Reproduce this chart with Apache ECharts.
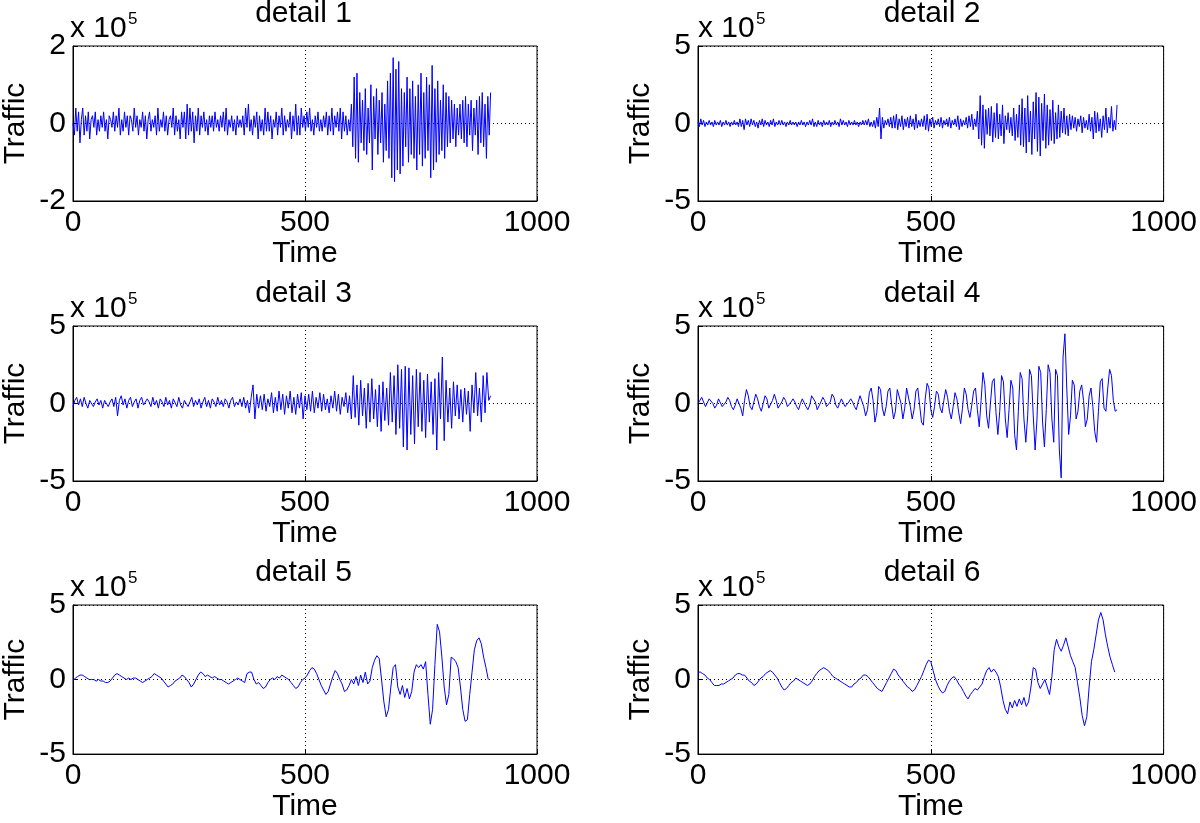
<!DOCTYPE html>
<html><head><meta charset="utf-8">
<script src="https://cdn.jsdelivr.net/npm/echarts@6/dist/echarts.min.js"></script>
<style>html,body{margin:0;padding:0;background:#fff}#c{width:1200px;height:823px}</style>
</head><body><div id="c"></div>
<script>
// ---- data (values in units of 1e4; plotted in units of 1e5) ----
const titles = ['detail 1', 'detail 2', 'detail 3', 'detail 4', 'detail 5', 'detail 6'];
const timeTicks = [0, 500, 1000];
const yLimits = [2, 5, 5, 5, 5, 5];
const timeSteps = [3, 3, 4, 4, 5, 5];

const detail1 = [
0,-3,4,-2,3,-5,1,4,-3,2, -2,3,-4,1,2,-1,3,-3,1,-2, 2,-1,3,-2,1,-4,2,1,-1,3,
-2,2,-1,4,-3,1,-2,3,-1,2, -3,2,1,-2,4,-1,2,-3,1,-1, 3,-2,2,-4,1,3,-2,1,-1,2,
-3,4,-2,1,-1,3,-2,2,-3,1, 2,-1,4,-3,2,-2,1,-4,3,-1, 3,-4,5,-3,4,-2,3,-5,2,-2,
4,-3,2,-1,3,-2,1,-3,2,-1, 2,-2,3,-1,1,-2,2,-1,3,-2, 4,-3,1,-1,2,-2,1,-3,2,-1,
1,-1,2,-3,4,-1,5,-2,1,-3, 2,-1,3,-4,2,-2,1,-3,4,-2, 3,-2,2,-4,1,-1,3,-3,2,-1,
4,-3,2,-2,1,-1,3,-4,2,-2, 5,-3,2,-3,4,-1,2,-2,3,-1, 4,-2,1,-3,2,-1,3,-2,1,-2,
2,-1,3,-3,2,-2,4,-3,2,-1, 3,-2,4,-4,3,-2,2,-3,1,-2, 5,-6,12,-9,13,-10,8,-5,6,-7,
9,-8,4,-5,10,-12,7,-4,9,-8, 6,-5,8,-10,5,-7,11,-9,13,-14, 17,-15,14,-12,16,-13,9,-11,8,-6,
12,-10,9,-8,11,-9,7,-12,10,-8, 13,-11,8,-9,12,-7,10,-14,15,-12, 9,-10,11,-8,6,-7,10,-9,8,-6,
7,-5,6,-4,5,-6,4,-3,5,-4, 6,-5,7,-6,5,-3,6,-7,4,-3, 6,-8,7,-5,8,-6,5,-9,7,-3,
8
];
const detail2 = [
1,-2,3,-1,2,-2,1,-1,2,-1, 1,-2,2,-1,1,-1,2,-2,1,-1, 2,-1,1,-2,1,-1,2,-1,1,-2,
3,-2,2,-4,3,-1,2,-2,3,-1, 2,-2,1,-3,2,-1,3,-2,2,-1, 1,-2,2,-1,3,-2,1,-1,2,-1,
2,-1,1,-2,1,-1,2,-1,1,-1, 1,-2,1,-1,2,-1,1,-2,1,-1, 2,-1,3,-2,1,-2,2,-1,1,-2,
2,-1,1,-1,2,-2,1,-1,2,-1, 1,-2,3,-1,2,-1,1,-2,2,-1, 1,-1,2,-1,1,-2,1,-1,2,-1,
2,-1,3,-2,1,-2,2,-3,4,-2, 10,-10,4,-3,2,-1,3,-2,4,-3, 5,-3,6,-4,3,-2,5,-4,3,-2,
4,-3,5,-2,3,-4,6,-3,2,-2, 3,-2,5,-4,6,-5,3,-2,4,-3, 2,-1,3,-2,4,-3,2,-1,3,-2,
4,-3,2,-1,3,-2,5,-4,3,-2, 2,-1,4,-3,5,-2,6,-4,3,-2, 8,-10,18,-14,12,-16,9,-7,10,-8,
11,-12,7,-9,13,-10,6,-8,12,-13, 5,-4,7,-6,4,-8,10,-11,6,-9, 12,-14,16,-15,10,-19,18,-12,8,-20,
14,-10,20,-18,17,-21,13,-11,19,-16, 12,-14,9,-11,15,-13,7,-10,12,-9, 8,-6,10,-7,5,-8,6,-4,5,-3,
4,-5,3,-2,5,-6,4,-3,2,-4, 6,-5,4,-10,8,-6,7,-5,3,-9, 5,-4,10,-6,4,-3,11,-5,2,-4,
12
];
const detail3 = [
-2,2,4,-1,3,-2,4,0,-3,2, 3,-2,1,3,-1,2,-3,2,3,-2, 1,3,-2,4,-8,2,5,-1,3,-3,
2,4,-2,1,3,-3,2,4,-1,-2, 3,1,-2,4,-1,2,-3,3,1,-2, 4,-1,2,-3,3,2,-2,4,-1,-3,
2,3,-2,1,4,-2,2,-1,3,-3, 1,4,-2,2,-3,3,1,-2,4,-1, 2,-2,3,1,-3,2,4,-2,1,-1,
3,-2,4,-3,2,-6,4,12,-10,6, -3,5,-4,6,-5,3,-2,7,-6,4, -5,8,-4,6,-7,5,-3,8,-6,4,
-7,6,-3,7,-10,5,-4,6,-5,8, -6,4,-3,7,-5,6,-4,3,-6,5, -3,8,-5,6,-7,4,-2,7,-6,5,
-10,18,-9,12,-14,15,-8,10,-16,13, -12,16,-10,9,-15,12,-18,14,-11,10, -14,20,-12,18,-20,25,-16,22,-28,24,
-30,23,-20,18,-26,22,-15,20,-18,15, -22,19,-12,14,-20,16,-30,20,-10,30, -24,15,-12,10,-16,14,-8,12,-10,9,
-12,10,-7,8,-18,12,-6,20,-8,10, -12,18,-6,20,2,5
];
const detail4 = [
0,2,4,1,-2,-1,3,4,0,-3, -1,3,2,-2,-3,1,4,2,-2,-4, -1,3,2,-3,-8,2,9,5,-2,-4,
1,6,3,-2,-5,0,5,3,-3,-4, 2,6,2,-3,-4,1,4,2,-2,-3, 1,3,1,-2,-4,0,3,2,-2,-4,
-1,5,6,1,-4,-5,1,4,2,-2, -3,1,6,4,-1,-3,0,3,2,-2, -3,1,3,1,-2,-4,1,5,6,-2,
-8,-4,7,10,2,-12,-6,11,9,-3, -8,-2,8,10,-1,-10,-5,9,10,0, -10,-3,10,9,-2,-10,-4,8,10,-1,
-12,-14,3,13,10,-4,-9,-2,8,6, -3,-6,2,9,4,-5,-10,-2,7,3, -6,-13,-3,10,6,-4,-9,-1,8,10,
-4,-15,2,20,12,-8,-16,0,14,16, -6,-20,-5,18,14,-10,-22,-4,15,10, -20,-30,-5,20,16,-10,-25,-8,22,18,
-8,-30,-10,24,20,-12,-28,-4,25,20, -10,-25,22,18,-30,-48,30,45,10,-20, -8,15,12,-10,-5,8,12,2,-15,-10,
5,10,-2,-18,-25,-5,14,16,-3,-5, 10,22,18,2,-5,-4
];
const detail5 = [
-1,1,2,3,3,2,1,0,0,0, -1,0,-1,-1,-2,-2,-1,1,3,4, 3,2,1,0,1,0,1,1,0,-1,
-2,-1,0,1,2,4,3,2,1,-1, -3,-5,-4,-3,-1,0,1,3,2,0, -2,-5,-3,0,3,5,4,2,3,2,
1,2,1,0,0,-1,-2,-3,-2,-1, 0,1,0,-1,-2,4,5,5,0,-3, -2,-4,-6,-5,-2,0,1,0,2,1,
3,2,1,0,-2,-4,-6,-5,-2,0, 1,3,6,8,7,4,0,-4,-7,-10, -8,-3,2,6,4,0,-3,-8,-7,-4,
0,-3,2,-4,3,-2,5,-3,-1,8, 13,16,14,0,-15,-25,-20,-5,8,10, -5,-10,-4,-12,-6,-13,-8,5,10,8,
10,7,12,-10,-30,-20,10,37,32,15, -5,-17,-10,15,14,12,8,-5,-20,-28, -27,-10,5,20,26,28,24,15,8,0
];
const detail6 = [
5,5,4,3,1,0,-2,-4,-4,-4, -3,-3,-2,-1,0,1,3,4,4,3, 3,1,-1,-2,-4,-3,-1,1,2,4,
5,6,5,3,1,-2,-5,-7,-6,-4, -2,-1,1,0,-1,-2,-3,-4,-3,-1, 2,4,6,7,8,7,6,4,2,1,
0,-1,-2,-3,-4,-5,-5,-3,-2,0, 1,3,3,2,0,-2,-4,-6,-7,-8, -5,-2,1,4,7,6,3,1,-1,-3,
-5,-6,-8,-7,-4,-1,2,6,10,13, 12,6,0,-4,-7,-9,-8,-4,-1,1, 2,0,-3,-5,-8,-11,-13,-10,-8,-6,
-7,-5,-3,2,6,8,5,7,5,2, -5,-14,-20,-23,-15,-19,-14,-18,-13,-17, -12,-18,-15,-5,8,7,-2,-6,-3,0,
-5,-10,2,20,27,22,19,23,28,22, 16,12,8,-2,-12,-24,-31,-25,-5,12, 20,30,40,45,40,30,22,15,10,5
];
const seriesValues = [detail1, detail2, detail3, detail4, detail5, detail6];

// ---- layout ----
const FONT = '"Liberation Sans", Arial, Helvetica, sans-serif';
const FS = 30;
const colLeft = [70, 698], colWidth = [467, 468];
const rowTop = [46, 326, 605], rowHeight = 155;

const grids = [], xAxes = [], yAxes = [], series = [], graphics = [];
for (let i = 0; i < 6; i++) {
  const r = Math.floor(i / 2), c = i % 2;
  const left = colLeft[c], top = rowTop[r], w = colWidth[c];
  grids.push({left: left, top: top, width: w, height: rowHeight, show: true,
    borderColor: '#000', borderWidth: 1, backgroundColor: '#fff', containLabel: false});
  xAxes.push({gridIndex: i, type: 'value', min: timeTicks[0], max: timeTicks[timeTicks.length - 1],
    interval: timeTicks[1] - timeTicks[0],
    axisLine: {show: true, onZero: false, lineStyle: {color: '#000', width: 1}},
    axisTick: {show: true, inside: true, length: 5, lineStyle: {color: '#000'}},
    axisLabel: {color: '#000', fontSize: FS, fontFamily: FONT, margin: 7, formatter: v => String(v)},
    splitLine: {show: true, lineStyle: {color: '#000', width: 1, type: [1, 3]}},
    name: 'Time', nameLocation: 'middle', nameGap: 35,
    nameTextStyle: {color: '#000', fontSize: FS, fontFamily: FONT}});
  const L = yLimits[i];
  yAxes.push({gridIndex: i, type: 'value', min: -L, max: L, interval: L,
    axisLine: {show: true, onZero: false, lineStyle: {color: '#000', width: 1}},
    axisTick: {show: true, inside: true, length: 5, lineStyle: {color: '#000'}},
    axisLabel: {color: '#000', fontSize: FS, fontFamily: FONT, margin: 7, formatter: v => String(v)},
    splitLine: {show: true, lineStyle: {color: '#000', width: 1, type: [1, 3]}},
    name: 'Traffic', nameLocation: 'middle', nameGap: 42,
    nameTextStyle: {color: '#000', fontSize: FS, fontFamily: FONT}});
  const step = timeSteps[i];
  series.push({type: 'line', xAxisIndex: i, yAxisIndex: i, symbol: 'none', showSymbol: false,
    lineStyle: {color: '#0000ff', width: 1}, animation: false, silent: true,
    data: seriesValues[i].map((v, k) => [k * step, v / 10])});
  graphics.push({type: 'text', x: left + w / 2, y: top - 32,
    style: {text: titles[i], fill: '#000', font: FS + 'px ' + FONT, textAlign: 'center', textVerticalAlign: 'middle'}});
  graphics.push({type: 'text', x: left, y: top - 17,
    style: {text: 'x 10', fill: '#000', font: FS + 'px ' + FONT, textAlign: 'left', textVerticalAlign: 'middle'}});
  graphics.push({type: 'text', x: left + 58, y: top - 27,
    style: {text: '5', fill: '#000', font: '17px ' + FONT, textAlign: 'left', textVerticalAlign: 'middle'}});
}

const chart = echarts.init(document.getElementById('c'), null, {renderer: 'canvas'});
chart.setOption({
  animation: false,
  backgroundColor: '#fff',
  grid: grids, xAxis: xAxes, yAxis: yAxes, series: series,
  graphic: graphics
});
</script></body></html>
